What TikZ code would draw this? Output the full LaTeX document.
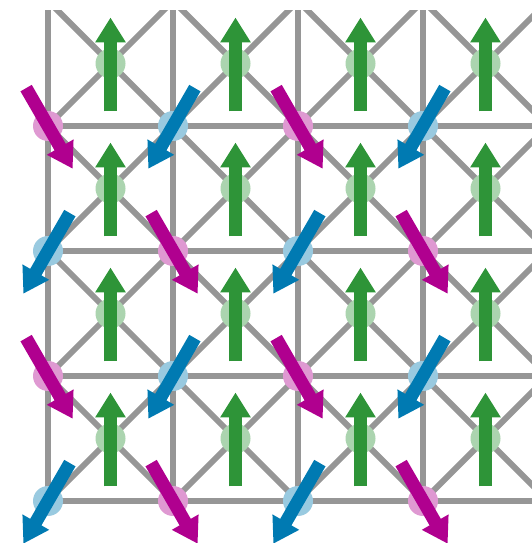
\documentclass[tikz,border=0pt]{standalone}
\usetikzlibrary{arrows.meta}

\definecolor{latgray}{RGB}{150,150,150}
\definecolor{spingreen}{RGB}{46,148,56}
\definecolor{spinpink}{RGB}{176,0,143}
\definecolor{spinblue}{RGB}{0,122,178}

\tikzset{
  lattice/.style={line width=0.12cm, color=latgray},
  spin/.style={line width=0.26cm, -{Triangle[length=0.5cm, width=0.58cm]}},
  site/.style={circle, minimum size=0.6cm, inner sep=0pt},
}

\begin{document}
\begin{tikzpicture}[x=2.5cm, y=2.5cm]
  \useasboundingbox[fill=white] (-0.384,-0.336) rectangle (3.864,4.008);

  % square lattice with crossed plaquettes, cut off at the top
  \begin{scope}
    \clip (-0.3,-0.3) rectangle (3.9,3.92);
    \foreach \k in {0,...,4} {
      \draw[lattice, line cap=rect] (0,\k) -- (4,\k);
      \draw[lattice, line cap=rect] (\k,0) -- (\k,4);
    }
    \foreach \i in {0,...,3}
      \foreach \j in {0,...,3} {
        \draw[lattice] (\i,\j) -- ++(1,1) (\i+1,\j) -- ++(-1,1);
      }
  \end{scope}

  % sites: plaquette centres and corners
  \foreach \i in {0,...,3}
    \foreach \j in {0,...,3} {
      \node[site, fill=spingreen!40] (c\i\j) at (\i+0.5,\j+0.5) {};
      \ifodd\numexpr\i+\j\relax
        \node[site, fill=spinpink!40] (s\i\j) at (\i,\j) {};
      \else
        \node[site, fill=spinblue!40] (s\i\j) at (\i,\j) {};
      \fi
    }

  % spins
  \foreach \i in {0,...,3}
    \foreach \j in {0,...,3} {
      \draw[spin, spingreen] ([yshift=-0.96cm]c\i\j.center) -- ([yshift=0.92cm]c\i\j.center);
      \ifodd\numexpr\i+\j\relax
        \draw[spin, spinpink] ([shift={(120:0.35)}]s\i\j.center) -- ([shift={(-60:0.395)}]s\i\j.center);
      \else
        \draw[spin, spinblue] ([shift={(60:0.35)}]s\i\j.center) -- ([shift={(-120:0.395)}]s\i\j.center);
      \fi
    }
\end{tikzpicture}
\end{document}
